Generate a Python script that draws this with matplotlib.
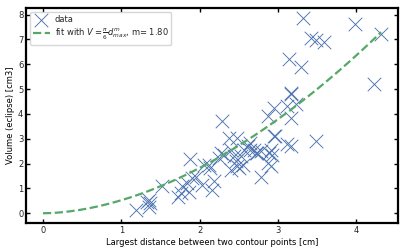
import numpy as np
import matplotlib
matplotlib.use("Agg")
from matplotlib import pyplot as plt

# largest distance [cm] and volume [cm3]
d_max = [1.19, 1.35, 1.37, 1.35, 1.33, 1.52, 1.88, 1.76, 1.78, 1.84, 1.86, 1.91, 1.95, 1.73,
         2.12, 2.03, 2.06, 2.14, 2.16, 2.18, 2.25, 2.27, 2.29, 2.31, 2.38, 2.40, 2.40, 2.44,
         2.46, 2.48, 2.48, 2.50, 2.53, 2.55, 2.57, 2.62, 2.65, 2.65, 2.70, 2.72, 2.74, 2.78,
         2.78, 2.87, 2.87, 2.89, 2.91, 2.91, 2.93, 2.95, 2.95, 2.97, 3.12, 3.12, 3.17, 3.17,
         3.17, 3.14, 3.23, 3.29, 3.32, 3.42, 3.49, 3.49, 3.59, 3.98, 4.23, 4.32, 3.17]
volume = [0.15, 0.54, 0.40, 0.27, 0.45, 1.08, 2.19, 0.81, 1.08, 1.21, 0.87, 1.42, 1.48, 0.67,
          1.96, 1.15, 1.96, 1.82, 0.94, 1.28, 2.23, 2.43, 3.71, 2.36, 3.04, 2.54, 1.75, 2.29,
          2.09, 3.04, 1.89, 1.82, 2.29, 1.96, 2.56, 2.70, 2.83, 2.56, 2.56, 2.43, 2.43, 1.48,
          2.50, 3.91, 2.02, 2.43, 2.56, 1.89, 2.35, 4.25, 3.10, 3.10, 2.77, 4.32, 4.79, 3.85,
          2.70, 6.23, 4.38, 5.90, 7.87, 7.05, 6.98, 2.90, 6.88, 7.62, 5.20, 7.23, 4.86]
m = 1.80

plt.rcParams['font.family'] = ['DejaVu Sans']
plt.rcParams['font.size'] = 6
plt.rcParams['text.color'] = '#262626'

fig, ax = plt.subplots(figsize=(4.07, 2.52), dpi=100)
ax.scatter(d_max, volume, marker='x', s=95, linewidths=0.65, color='#4c72b0', label='data')

d = np.linspace(0, max(d_max), 200)
ax.plot(d, np.pi / 6 * d ** m, '--', color='#55a868', lw=1.6,
        label=r'fit with $V=\frac{\pi}{6}d_{max}^m$, m= %.2f' % m)

ax.set_xlabel("Largest distance between two contour points [cm]", fontsize=6, labelpad=2)
ax.set_ylabel("Volume (eclipse) [cm3]", fontsize=6, labelpad=2)
ax.tick_params(direction='in', top=True, right=True, labelsize=6, length=3, width=1,
               pad=2, labelcolor='#262626')
for s in ax.spines.values():
    s.set_linewidth(1.6)
ax.legend(loc='upper left', fontsize=6, framealpha=0.8, edgecolor='#cccccc',
          labelspacing=0.3, borderpad=0.35, handletextpad=0.6)
fig.subplots_adjust(left=0.064, right=0.978, top=0.968, bottom=0.115)
plt.savefig('out.png')
